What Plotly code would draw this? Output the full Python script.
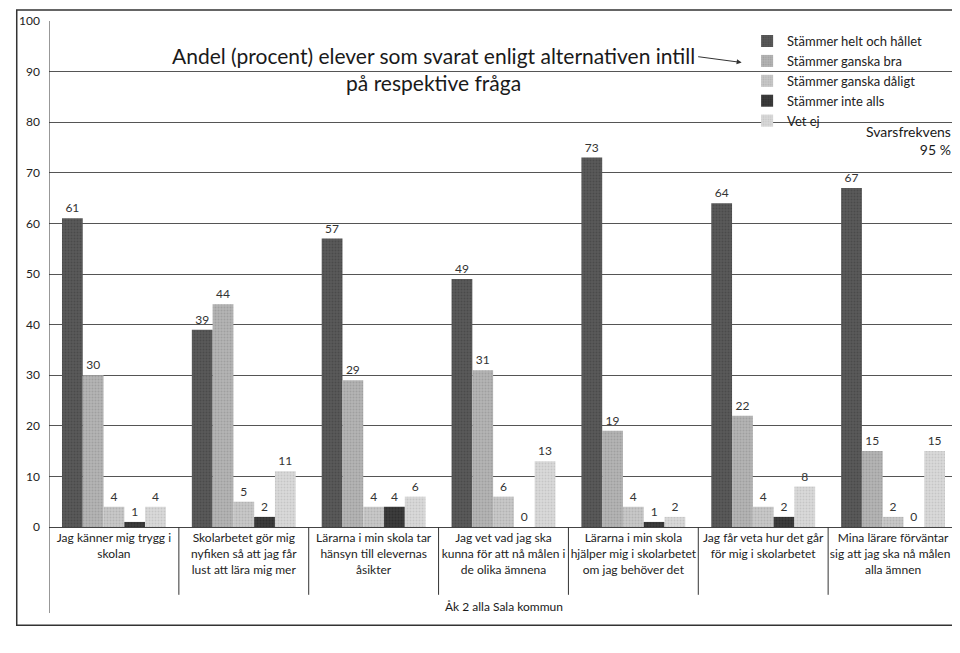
import plotly.graph_objects as go

# frågor (kategorier)
fragor = [
    "Jag känner mig trygg i<br>skolan",
    "Skolarbetet gör mig<br>nyfiken så att jag får<br>lust att lära mig mer",
    "Lärarna i min skola tar<br>hänsyn till elevernas<br>åsikter",
    "Jag vet vad jag ska<br>kunna för att nå målen i<br>de olika ämnena",
    "Lärarna i min skola<br>hjälper mig i skolarbetet<br>om jag behöver det",
    "Jag får veta hur det går<br>för mig i skolarbetet",
    "Mina lärare förväntar<br>sig att jag ska nå målen i<br>alla ämnen",
]

helt_och_hallet = [61, 39, 57, 49, 73, 64, 67]
ganska_bra = [30, 44, 29, 31, 19, 22, 15]
ganska_daligt = [4, 5, 4, 6, 4, 4, 2]
inte_alls = [1, 2, 4, 0, 1, 2, 0]
vet_ej = [4, 11, 6, 13, 2, 8, 15]

serier = [
    ("Stämmer helt och hållet", helt_och_hallet, "#5a5a5a", "#3a3a3a"),
    ("Stämmer ganska bra", ganska_bra, "#b4b4b4", "#8a8a8a"),
    ("Stämmer ganska dåligt", ganska_daligt, "#c8c8c8", "#9e9e9e"),
    ("Stämmer inte alls", inte_alls, "#3c3c3c", "#222222"),
    ("Vet ej", vet_ej, "#dadada", "#b0b0b0"),
]

FONT = "Lato, 'Open Sans', sans-serif"

fig = go.Figure()
for namn, varden, farg, prick in serier:
    fig.add_trace(go.Bar(
        x=list(range(len(fragor))), y=varden, name=namn,
        marker=dict(color=farg, line=dict(width=0),
                    pattern=dict(shape=".", fgcolor=prick, bgcolor=farg,
                                 size=3, solidity=0.35)),
        text=varden, textposition="outside", cliponaxis=False,
        textfont=dict(size=12, color="#333333"),
    ))

# sidan har 8px marginal runt figuren
fig.update_layout(
    width=952, height=645,
    barmode="group", bargap=0.2, bargroupgap=0,
    plot_bgcolor="white", paper_bgcolor="white",
    font=dict(family=FONT, size=12, color="#222222"),
    margin=dict(l=41, r=2, t=13, b=126, autoexpand=False),
    showlegend=True,
    legend=dict(x=0.768, y=0.99, xanchor="left", yanchor="top",
                bgcolor="rgba(0,0,0,0)", font=dict(size=13),
                itemwidth=30, tracegroupgap=0),
)

fig.update_xaxes(
    tickmode="array", tickvals=list(range(len(fragor))), ticktext=fragor,
    range=[-0.5, len(fragor) - 0.5], showline=True, linecolor="#444444",
    ticks="", tickfont=dict(size=12), showgrid=False, automargin=False,
)
fig.update_yaxes(
    range=[0, 100], dtick=10, showgrid=True, gridcolor="#555555", gridwidth=1,
    showline=False, zeroline=False, ticks="", tickfont=dict(size=12),
    ticklabelstandoff=8, automargin=False,
)

# avdelare mellan kategorier
for i in range(len(fragor) + 1):
    fig.add_shape(type="line", xref="x", yref="paper",
                  x0=i - 0.5, x1=i - 0.5, y0=0,
                  y1=-0.134 if 0 < i < len(fragor) else -0.17,
                  line=dict(color="#333333", width=1))
# vänster axel & ram
fig.add_shape(type="line", xref="x", yref="paper", x0=-0.5, x1=-0.5, y0=0, y1=1,
              line=dict(color="#333333", width=1))
fig.add_shape(type="line", xref="x", yref="paper", x0=len(fragor) - 0.5, x1=len(fragor) - 0.5,
              y0=0, y1=1, line=dict(color="#333333", width=1))
fig.add_shape(type="rect", xref="paper", yref="paper", x0=-0.0355, x1=1.0089, y0=-0.194, y1=1.0217,
              line=dict(color="#333333", width=1.5), layer="below")

fig.add_annotation(text="Andel (procent) elever som svarat enligt alternativen intill<br>på respektive fråga",
                   xref="paper", yref="paper", x=0.423, y=0.905, yanchor="middle", showarrow=False,
                   font=dict(size=21, color="#1a1a1a"), align="center")
fig.add_annotation(xref="paper", yref="paper", x=0.762, y=0.918, ax=-45, ay=-6,
                   text="", showarrow=True,
                   arrowhead=2, arrowsize=1, arrowwidth=1, arrowcolor="#333333")
fig.add_annotation(text="Svarsfrekvens<br>95 %", xref="paper", yref="paper",
                   x=0.995, y=0.803, xanchor="right", yanchor="top", showarrow=False,
                   font=dict(size=14, color="#1a1a1a"), align="right")
fig.add_annotation(text="Åk 2 alla Sala kommun", xref="paper", yref="paper",
                   x=0.5, y=-0.138, xanchor="center", yanchor="top", showarrow=False,
                   font=dict(size=12, color="#1a1a1a"))

fig.write_html("out.html")
